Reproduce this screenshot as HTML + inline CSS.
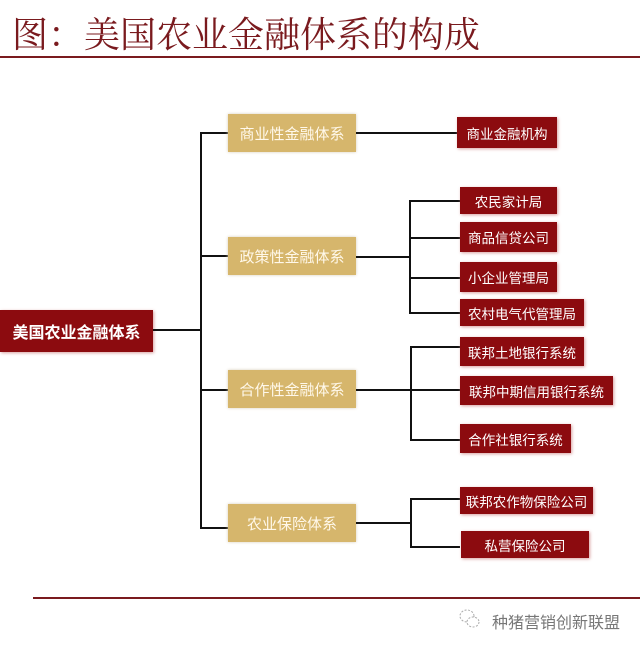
<!DOCTYPE html>
<html><head><meta charset="utf-8"><style>
body{margin:0;width:640px;height:648px;background:#fff;position:relative;overflow:hidden;font-family:"Liberation Sans","Noto Sans CJK SC",sans-serif}
.a{position:absolute}
.t{left:12px;top:7px;font-size:36px;color:#7a1a1e;font-family:"Liberation Serif","Noto Serif CJK SC",serif;white-space:nowrap;letter-spacing:0}
.l{position:absolute;background:#111}
.g{position:absolute;background:#d6b66c;color:#fff8ea;font-size:15px;display:flex;align-items:center;justify-content:center;box-shadow:0 0 3px #d8cdb8;white-space:nowrap}
.r{position:absolute;background:#8c0b0f;color:#fff;font-size:13.5px;display:flex;align-items:center;justify-content:center;box-shadow:1px 1px 3px #d9a0a0;white-space:nowrap}
</style></head><body>
<div class="a t">图：美国农业金融体系的构成</div>
<div class="a" style="left:0;top:56px;width:640px;height:2px;background:#7a1a1e"></div>

<div class="r" style="left:0;top:310px;width:153px;height:42px;font-size:16px;font-weight:bold">美国农业金融体系</div>
<div class="l" style="left:153px;top:329px;width:48px;height:2px"></div>
<div class="l" style="left:200px;top:132px;width:2px;height:397px"></div>
<div class="l" style="left:200px;top:132px;width:28px;height:2px"></div>
<div class="l" style="left:200px;top:255px;width:28px;height:2px"></div>
<div class="l" style="left:200px;top:389px;width:28px;height:2px"></div>
<div class="l" style="left:200px;top:527px;width:28px;height:2px"></div>

<div class="g" style="left:228px;top:114px;width:128px;height:38px">商业性金融体系</div>
<div class="g" style="left:228px;top:237px;width:128px;height:38px">政策性金融体系</div>
<div class="g" style="left:228px;top:370px;width:128px;height:38px">合作性金融体系</div>
<div class="g" style="left:228px;top:504px;width:128px;height:38px">农业保险体系</div>

<div class="l" style="left:356px;top:132px;width:101px;height:2px"></div>
<div class="r" style="left:457px;top:117px;width:100px;height:31px">商业金融机构</div>

<div class="l" style="left:356px;top:256px;width:54px;height:2px"></div>
<div class="l" style="left:409px;top:200px;width:2px;height:114px"></div>
<div class="l" style="left:409px;top:200px;width:51px;height:2px"></div>
<div class="l" style="left:409px;top:237px;width:51px;height:2px"></div>
<div class="l" style="left:409px;top:277px;width:51px;height:2px"></div>
<div class="l" style="left:409px;top:312px;width:51px;height:2px"></div>
<div class="r" style="left:460px;top:187px;width:97px;height:27px">农民家计局</div>
<div class="r" style="left:460px;top:222px;width:97px;height:30px">商品信贷公司</div>
<div class="r" style="left:460px;top:262px;width:97px;height:30px">小企业管理局</div>
<div class="r" style="left:460px;top:299px;width:124px;height:27px">农村电气代管理局</div>

<div class="l" style="left:356px;top:389px;width:54px;height:2px"></div>
<div class="l" style="left:410px;top:346px;width:2px;height:95px"></div>
<div class="l" style="left:410px;top:346px;width:50px;height:2px"></div>
<div class="l" style="left:410px;top:389px;width:50px;height:2px"></div>
<div class="l" style="left:410px;top:439px;width:50px;height:2px"></div>
<div class="r" style="left:460px;top:337px;width:124px;height:29px">联邦土地银行系统</div>
<div class="r" style="left:460px;top:376px;width:153px;height:29px">联邦中期信用银行系统</div>
<div class="r" style="left:460px;top:424px;width:111px;height:29px">合作社银行系统</div>

<div class="l" style="left:356px;top:522px;width:54px;height:2px"></div>
<div class="l" style="left:410px;top:498px;width:2px;height:50px"></div>
<div class="l" style="left:410px;top:498px;width:50px;height:2px"></div>
<div class="l" style="left:410px;top:546px;width:50px;height:2px"></div>
<div class="r" style="left:460px;top:487px;width:133px;height:27px">联邦农作物保险公司</div>
<div class="r" style="left:461px;top:531px;width:128px;height:27px">私营保险公司</div>

<div class="a" style="left:33px;top:597px;width:607px;height:2px;background:#7a1a1e"></div>
<svg class="a" style="left:458px;top:608px" width="24" height="22" viewBox="0 0 24 22"><ellipse cx="9" cy="8" rx="7" ry="6" fill="none" stroke="#aaa" stroke-dasharray="2 1.5"/><ellipse cx="15" cy="14" rx="6" ry="5" fill="#fff" stroke="#aaa" stroke-dasharray="2 1.5"/></svg>
<div class="a" style="left:492px;top:609px;font-size:16px;color:#777;white-space:nowrap">种猪营销创新联盟</div>
</body></html>
